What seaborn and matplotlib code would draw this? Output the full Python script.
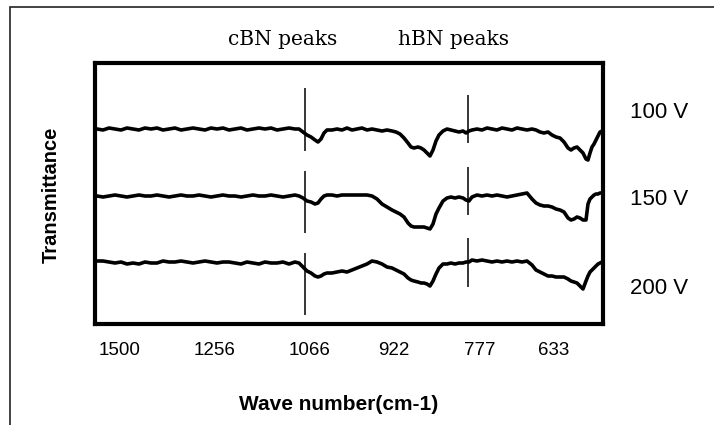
import matplotlib
matplotlib.use("Agg")

import matplotlib.pyplot as plt
import pandas as pd
import seaborn as sns
from matplotlib.patches import Rectangle

# detector channel (shared by the three spectra) and transmittance, arbitrary units
CHANNEL = [
    97, 103, 109, 115, 121, 127, 133, 139, 145, 151, 157, 163, 169, 175, 181, 187, 193,
    199, 205, 211, 217, 223, 229, 235, 241, 247, 253, 259, 265, 271, 277, 283, 289, 295,
    299, 303, 307, 311, 315, 318, 321, 324, 327,
    332, 337, 342, 347, 352, 357, 362, 367, 372, 377, 382, 387, 392,
    396, 400, 404, 408, 411, 414, 418, 421, 424, 427, 430, 433, 436, 439, 443, 447, 451,
    455, 459, 463, 466, 469, 472,
    477, 482, 487, 492, 497, 502, 507, 512, 517, 522, 527, 532,
    536, 540, 544, 548, 552, 556, 560, 564, 568, 571, 574, 577, 580, 583, 586, 588, 590,
    592, 594, 596, 598, 600, 602,
]

T_100V = [
    195, 194, 196, 195, 194, 196, 195, 194, 196, 195, 196, 194, 195, 196, 194, 195, 196,
    195, 194, 196, 195, 196, 194, 195, 196, 194, 195, 196, 195, 196, 194, 195, 196, 195,
    195, 192, 189, 187, 184, 182, 185, 191, 194,
    194, 195, 194, 196, 194, 195, 196, 194, 195, 194, 193, 194, 193,
    192, 190, 186, 181, 177, 176, 177, 176, 174, 171, 168, 174, 183, 189, 193, 195, 194,
    193, 192, 193, 191, 193, 194,
    195, 194, 196, 195, 194, 196, 195, 194, 196, 195, 194, 195,
    194, 192, 191, 192, 189, 187, 186, 182, 176, 174, 176, 177, 174, 171, 165, 164, 171,
    177, 180, 184, 188, 192, 193,
]

T_150V = [
    128, 127, 128, 129, 128, 127, 128, 129, 128, 128, 129, 128, 127, 128, 129, 128, 128,
    129, 128, 127, 128, 129, 128, 128, 127, 128, 129, 128, 128, 129, 128, 127, 128, 129,
    128, 126, 123, 122, 120, 121, 125, 128, 129,
    129, 128, 129, 129, 129, 129, 129, 129, 128, 125, 120, 117, 114,
    112, 110, 107, 101, 98, 97, 97, 97, 97, 96, 95, 100, 110, 116, 123, 126, 127,
    126, 127, 126, 124, 123, 127,
    129, 128, 129, 128, 129, 128, 127, 128, 129, 130, 131, 125,
    121, 119, 118, 118, 117, 115, 114, 112, 106, 104, 105, 107, 106, 104, 104, 120, 125,
    127, 129, 130, 130, 131, 131,
]

T_200V = [
    63, 63, 62, 61, 62, 60, 61, 60, 62, 61, 61, 63, 62, 62, 63, 62, 61,
    62, 63, 62, 61, 62, 62, 61, 60, 62, 61, 60, 62, 61, 61, 62, 60, 62,
    61, 57, 53, 51, 48, 47, 48, 50, 51,
    51, 52, 53, 52, 54, 56, 58, 60, 63, 62, 60, 57, 56,
    54, 52, 50, 46, 44, 43, 42, 41, 41, 40, 38, 43, 50, 56, 60, 60, 61,
    60, 61, 61, 62, 62, 64,
    63, 64, 63, 62, 63, 62, 63, 62, 63, 62, 63, 59,
    54, 52, 50, 48, 48, 47, 47, 47, 45, 43, 42, 41, 38, 35, 43, 48, 52,
    54, 56, 58, 60, 61, 62,
]

BIAS = ["100 V", "150 V", "200 V"]

# wave number labels on the (non-linear) channel axis
TICK_CHANNELS = [119.3, 215, 310, 394, 480, 554]
TICK_LABELS = ["1500", "1256", "1066", "922", "777", "633"]

# peak marker lines: channel and the (low, high) extent drawn through each trace
PEAK_CHANNELS = [305, 468]
PEAK_SEGMENTS = [
    [(173, 236), (91, 153), (9, 71)],
    [(181, 229), (109, 157), (37, 86)],
]
PEAK_NAMES = ["cBN peaks", "hBN peaks"]


def main():
    sns.set_style("white")
    plt.rcParams["font.family"] = ["Liberation Sans", "DejaVu Sans"]
    plt.rcParams["text.color"] = "black"
    plt.rcParams["axes.labelcolor"] = "black"
    plt.rcParams["xtick.color"] = "black"

    df = pd.DataFrame({
        "channel": CHANNEL * 3,
        "transmittance": T_100V + T_150V + T_200V,
        "bias": [b for b in BIAS for _ in CHANNEL],
    })

    W, H = 714, 425
    fig = plt.figure(figsize=(W / 100, H / 100), dpi=100)
    ax = fig.add_axes([94.7 / W, 1 - 324 / H, 507.8 / W, 261 / H])

    sns.lineplot(
        data=df, x="channel", y="transmittance", hue="bias",
        palette=["black"] * 3, legend=False, linewidth=2.6,
        estimator=None, ax=ax,
    )

    for ch, segs in zip(PEAK_CHANNELS, PEAK_SEGMENTS):
        for lo, hi in segs:
            ax.vlines(ch, lo, hi, color="black", linewidth=1.1)

    ax.set_xlim(94.7, 602.5)
    ax.set_ylim(0, 261)
    ax.set_yticks([])
    ax.set_xticks(TICK_CHANNELS, TICK_LABELS)
    ax.tick_params(axis="x", length=0, pad=13, labelsize=13.5, labelcolor="black")

    for s in ax.spines.values():
        s.set_visible(True)
        s.set_color("black")
        s.set_linewidth(3)

    ax.set_xlabel("Wave number(cm-1)", fontsize=15, fontweight="bold", va="center",
                  color="black")
    ax.xaxis.set_label_coords((338.5 - 94.7) / 507.8, (324 - 404) / 261)
    ax.set_ylabel("Transmittance", fontsize=14.5, fontweight="bold", va="center",
                  ha="center", color="black")
    ax.yaxis.set_label_coords((50.8 - 94.7) / 507.8, (324 - 194.7) / 261)

    # peak headings above the frame
    for name, xc in zip(PEAK_NAMES, [283, 453.5]):
        fig.text(xc / W, 1 - 45 / H, name, ha="center", va="baseline",
                 fontsize=14.5, family="DejaVu Serif", color="black")

    # trace labels on the right
    for label, yc in zip(BIAS, [112, 199.5, 288]):
        fig.text(630 / W, 1 - yc / H, label, ha="left", va="center", fontsize=16,
                 color="black")

    # outer chart-area border (cropped at right and bottom)
    fig.patches.append(Rectangle((9.5 / W, -0.5), 2.0, 0.5 + 1 - 7 / H,
                                 transform=fig.transFigure, fill=False,
                                 edgecolor="#222222", linewidth=1.2))

    fig.savefig("out.png", dpi=100)


if __name__ == "__main__":
    main()
